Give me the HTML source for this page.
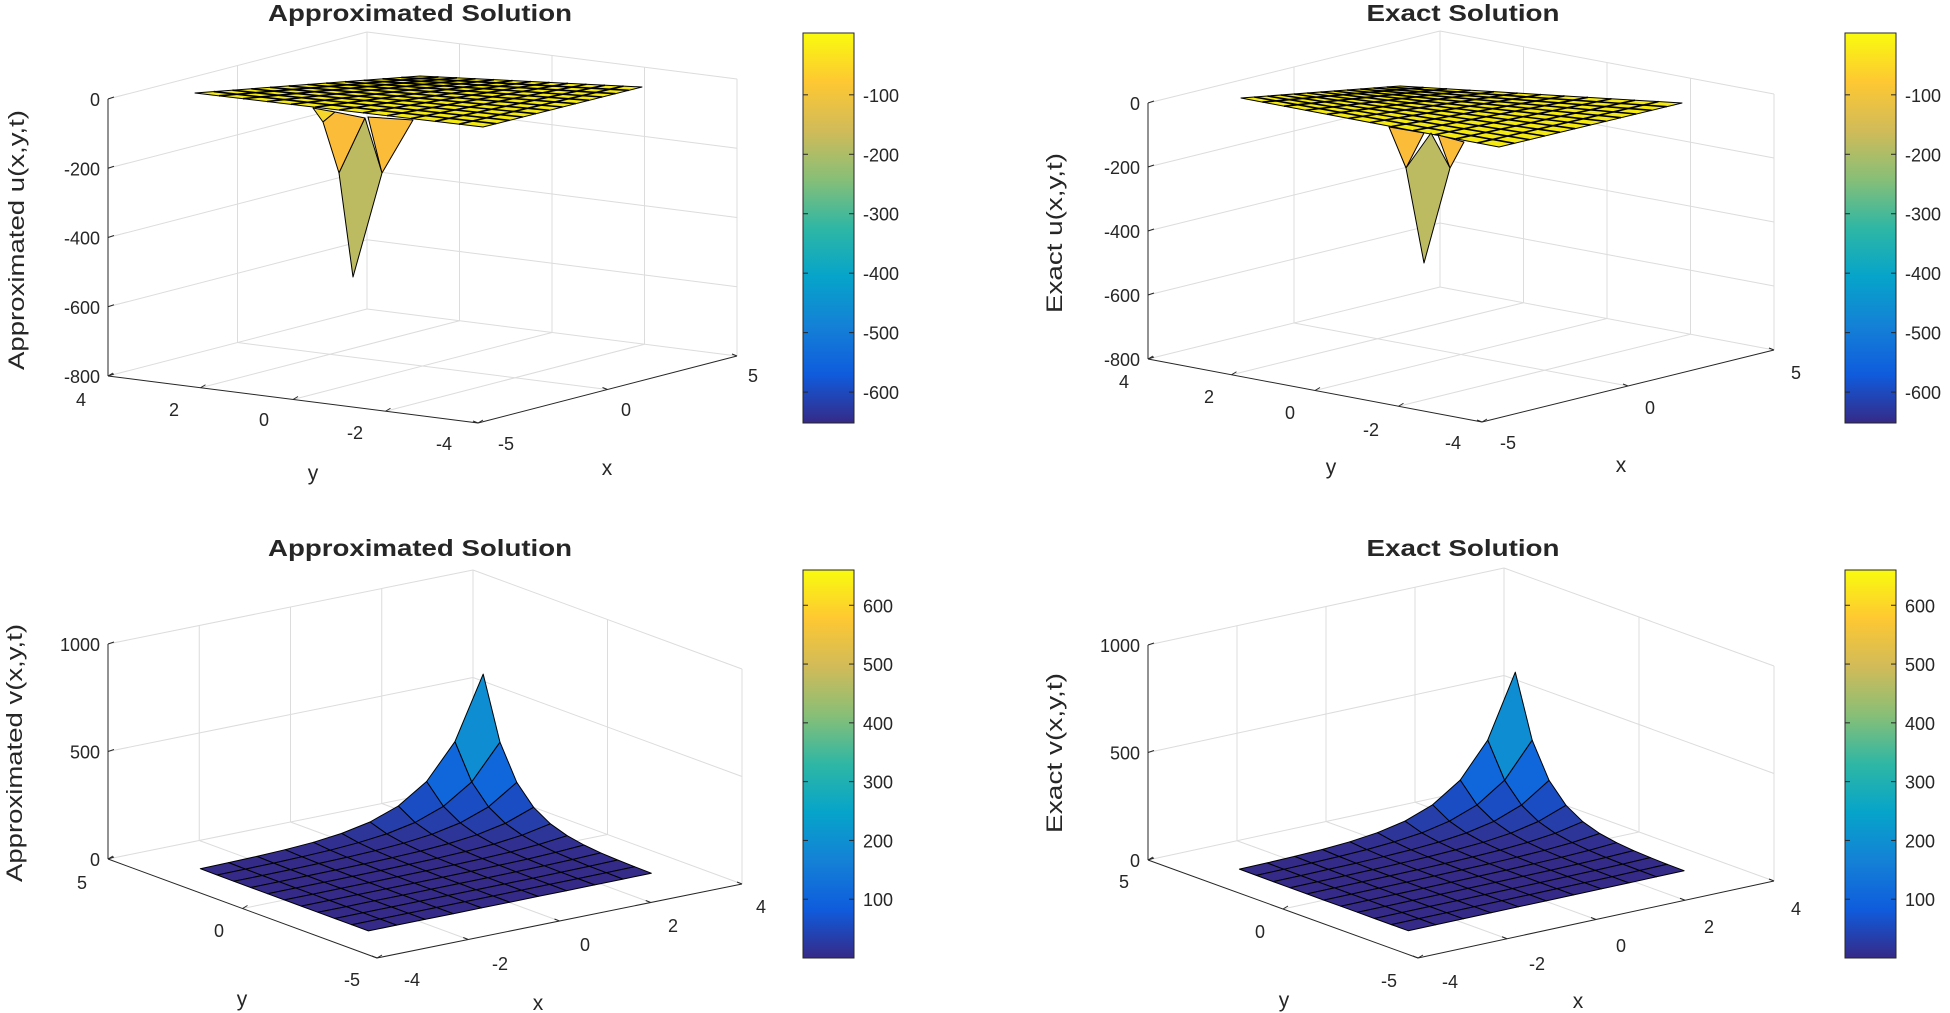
<!DOCTYPE html>
<html><head><meta charset="utf-8">
<style>
html,body{margin:0;padding:0;background:#fff;}
svg{display:block;}
text{font-family:"Liberation Sans",Arial,sans-serif;fill:#262626;}
</style></head>
<body>
<svg id="s" width="1950" height="1013" viewBox="0 0 1950 1013" xmlns="http://www.w3.org/2000/svg">
<defs>
<linearGradient id="par" x1="0" y1="1" x2="0" y2="0">
<stop offset="0" stop-color="#352a87"/><stop offset="0.125" stop-color="#0f5cdd"/>
<stop offset="0.25" stop-color="#1481d6"/><stop offset="0.375" stop-color="#06a4ca"/>
<stop offset="0.5" stop-color="#2eb7a4"/><stop offset="0.625" stop-color="#87bf77"/>
<stop offset="0.75" stop-color="#d1bb59"/><stop offset="0.875" stop-color="#fec832"/>
<stop offset="1" stop-color="#f9fb0e"/>
</linearGradient>
</defs>
<g id="g"></g>
</svg>
<script>
var G=document.getElementById('g'),out='';
function L(x1,y1,x2,y2,c,w){out+='<line x1="'+x1+'" y1="'+y1+'" x2="'+x2+'" y2="'+y2+'" stroke="'+c+'" stroke-width="'+(w||1)+'"/>';}
function P(pts,fill,st){out+='<polygon points="'+pts.map(function(p){return p[0].toFixed(1)+','+p[1].toFixed(1)}).join(' ')+'" fill="'+fill+'" stroke="'+(st||'#000')+'" stroke-width="1" stroke-linejoin="round"/>';}
function T(x,y,s,o){o=o||{};out+='<text x="'+x+'" y="'+y+'" font-size="'+(o.fs||18)+'" text-anchor="'+(o.a||'middle')+'"'+(o.b?' font-weight="bold"':'')+(o.tl?' textLength="'+o.tl+'" lengthAdjust="spacingAndGlyphs"':'')+(o.r?' transform="rotate(-90 '+x+' '+y+')"':'')+'>'+s+'</text>';}
var stops=[[53,42,135],[15,92,221],[20,129,214],[6,164,202],[46,183,164],[135,191,119],[209,187,89],[254,200,50],[249,251,14]];
function parula(f){f=Math.max(0,Math.min(1,f))*8;var i=Math.min(7,Math.floor(f)),r=f-i,a=stops[i],b=stops[i+1];
return 'rgb('+[0,1,2].map(function(k){return Math.round(a[k]+(b[k]-a[k])*r)}).join(',')+')';}
function panel(p){
 var O=p.O,F=p.F,R=p.R,H=p.H;
 function pr(s,t,z){return [O[0]+s*(F[0]-O[0])+t*(R[0]-F[0]),O[1]+s*(F[1]-O[1])+t*(R[1]-F[1])-(z-p.zmin)/(p.zmax-p.zmin)*H];}
 p.pr=pr;
 var gc='#dcdcdc';
 p.sg.forEach(function(s){var a=pr(s,0,p.zmin),b=pr(s,1,p.zmin);L(a[0],a[1],b[0],b[1],gc);});
 p.tg.forEach(function(t){var a=pr(0,t,p.zmin),b=pr(1,t,p.zmin);L(a[0],a[1],b[0],b[1],gc);});
 p.zt.forEach(function(z){var a=pr(0,0,z),b=pr(0,1,z),c=pr(1,1,z);L(a[0],a[1],b[0],b[1],gc);L(b[0],b[1],c[0],c[1],gc);});
 p.tg.forEach(function(t){var a=pr(0,t,p.zmin),b=pr(0,t,p.zmax);L(a[0],a[1],b[0],b[1],gc);});
 p.sg.forEach(function(s){var a=pr(s,1,p.zmin),b=pr(s,1,p.zmax);L(a[0],a[1],b[0],b[1],gc);});
 [[0,1],[1,1]].forEach(function(q){var a=pr(q[0],q[1],p.zmin),b=pr(q[0],q[1],p.zmax);L(a[0],a[1],b[0],b[1],gc);});
 var a=pr(0,0,p.zmin),b=pr(1,0,p.zmin),c=pr(1,1,p.zmin),d=pr(0,0,p.zmax);
 L(a[0],a[1],d[0],d[1],'#262626');L(a[0],a[1],b[0],b[1],'#262626');L(b[0],b[1],c[0],c[1],'#262626');
 p.zt.forEach(function(z){var q=pr(0,0,z);L(q[0],q[1],q[0]+6,q[1]-2,'#262626');T(q[0]-8,q[1]+7,p.zl(z),{a:'end'});});
 p.sg.concat([0,1]).forEach(function(s){var q=pr(s,0,p.zmin);L(q[0],q[1],q[0]+5,q[1]-3,'#262626');});
 p.tg.concat([0,1]).forEach(function(t){var q=pr(1,t,p.zmin);L(q[0],q[1],q[0]-5,q[1]-2,'#262626');});
}
function cbar(x,y1,y2,vmin,vmax,ticks){
 out+='<rect x="'+x+'" y="'+y1+'" width="51" height="'+(y2-y1)+'" fill="url(#par)" stroke="#262626" stroke-width="1"/>';
 ticks.forEach(function(v){var y=y2-(v-vmin)/(vmax-vmin)*(y2-y1);L(x+51,y,x+46,y,'#262626');L(x,y,x+5,y,'#262626');T(x+60,y+7,String(v),{a:'start'});});
}
function flatSurf(c00,c10,c01,c11,n){
 function bl(a,b){return [c00[0]*(1-a)*(1-b)+c10[0]*a*(1-b)+c01[0]*(1-a)*b+c11[0]*a*b,c00[1]*(1-a)*(1-b)+c10[1]*a*(1-b)+c01[1]*(1-a)*b+c11[1]*a*b];}
 P([c00,c01,c11,c10],'#f4ea12','#000');
 for(var i=1;i<n;i++){var a=bl(i/n,0),b=bl(i/n,1);L(a[0],a[1],b[0],b[1],'#000',1.6);a=bl(0,i/n);b=bl(1,i/n);L(a[0],a[1],b[0],b[1],'#000',1.6);}
}
function expSurf(p){
 var N=10,s0=0.187,s1=0.812,t0=0.115,t1=0.89,faces=[];
 function z(i,j){return 640*Math.pow(0.55,i+(N-j));}
 function pt(i,j){return p.pr(s0+(s1-s0)*i/N,t0+(t1-t0)*j/N,z(i,j));}
 for(var i=0;i<N;i++)for(var j=0;j<N;j++){faces.push({i:i,j:j,d:i+(N-1-j)});}
 faces.sort(function(a,b){return a.d-b.d;});
 faces.forEach(function(f){var i=f.i,j=f.j;var m=Math.min(z(i,j),z(i+1,j),z(i,j+1),z(i+1,j+1));
  P([pt(i,j),pt(i,j+1),pt(i+1,j+1),pt(i+1,j)],parula(m/660));});
}
function fmt(z){return z<0?'-'+(-z):String(z);}
var tl={O:[108,376],F:[478,423],R:[737,356],H:277,zmin:-800,zmax:0,zt:[0,-200,-400,-600,-800],sg:[0.25,0.5,0.75],tg:[0.5],zl:fmt};
panel(tl);
flatSurf([420,76],[195,93],[642,87],[483,127],12);
P([[313,108],[335,112],[323,122]],'#f3d52c');
P([[323,122],[335,112],[365,118],[339,173]],'#fbbc3a');
P([[368,117],[413,120],[382,173]],'#fbbc3a');
P([[365,118],[382,173],[353,277],[339,173]],'#bdbb62');
T(420,21,'Approximated Solution',{fs:23,b:1,tl:304});
T(24,240,'Approximated u(x,y,t)',{fs:22,r:1,tl:260});
[['4',81,406],['2',174,416],['0',264,426],['-2',355,439],['-4',444,450]].forEach(function(a){T(a[1],a[2],a[0]);});
[['-5',506,450],['0',626,416],['5',753,382]].forEach(function(a){T(a[1],a[2],a[0]);});
T(313,480,'y',{fs:21});T(607,475,'x',{fs:21});
cbar(803,33,423,-652,4,[-100,-200,-300,-400,-500,-600]);
var tr={O:[1148,359],F:[1482,422],R:[1774,350],H:256,zmin:-800,zmax:0,zt:[0,-200,-400,-600,-800],sg:[0.25,0.5,0.75],tg:[0.5],zl:fmt};
panel(tr);
flatSurf([1400,86],[1241,98],[1682,103],[1499,147],12);
P([[1389,127],[1424,133],[1406,168]],'#fbbc3a');
P([[1438,135],[1464,142],[1450,168]],'#fbbc3a');
P([[1431,133],[1450,168],[1424,263],[1406,168]],'#bdbb62');
T(1463,21,'Exact Solution',{fs:23,b:1,tl:193});
T(1062,233,'Exact u(x,y,t)',{fs:22,r:1,tl:160});
[['4',1124,388],['2',1209,403],['0',1290,419],['-2',1371,436],['-4',1453,449]].forEach(function(a){T(a[1],a[2],a[0]);});
[['-5',1508,449],['0',1650,414],['5',1796,379]].forEach(function(a){T(a[1],a[2],a[0]);});
T(1331,474,'y',{fs:21});T(1621,472,'x',{fs:21});
cbar(1845,33,423,-652,4,[-100,-200,-300,-400,-500,-600]);
var bl={O:[108,859],F:[377,958],R:[742,884],H:215,zmin:0,zmax:1000,zt:[0,500,1000],sg:[0.5],tg:[0.25,0.5,0.75],zl:fmt};
panel(bl);expSurf(bl);
T(420,556,'Approximated Solution',{fs:23,b:1,tl:304});
T(22,753,'Approximated v(x,y,t)',{fs:22,r:1,tl:258});
[['5',82,889],['0',219,937],['-5',352,986]].forEach(function(a){T(a[1],a[2],a[0]);});
[['-4',412,986],['-2',500,970],['0',585,951],['2',673,932],['4',761,913]].forEach(function(a){T(a[1],a[2],a[0]);});
T(242,1006,'y',{fs:21});T(538,1010,'x',{fs:21});
cbar(803,570,958,0,660,[100,200,300,400,500,600]);
var br={O:[1148,860],F:[1418,958],R:[1774,881],H:215,zmin:0,zmax:1000,zt:[0,500,1000],sg:[0.5],tg:[0.25,0.5,0.75],zl:fmt};
panel(br);expSurf(br);
T(1463,556,'Exact Solution',{fs:23,b:1,tl:193});
T(1062,753,'Exact v(x,y,t)',{fs:22,r:1,tl:160});
[['5',1124,888],['0',1260,938],['-5',1389,987]].forEach(function(a){T(a[1],a[2],a[0]);});
[['-4',1450,988],['-2',1537,970],['0',1621,952],['2',1709,933],['4',1796,915]].forEach(function(a){T(a[1],a[2],a[0]);});
T(1284,1007,'y',{fs:21});T(1578,1008,'x',{fs:21});
cbar(1845,570,958,0,660,[100,200,300,400,500,600]);
G.innerHTML=out;
</script>
</body></html>
